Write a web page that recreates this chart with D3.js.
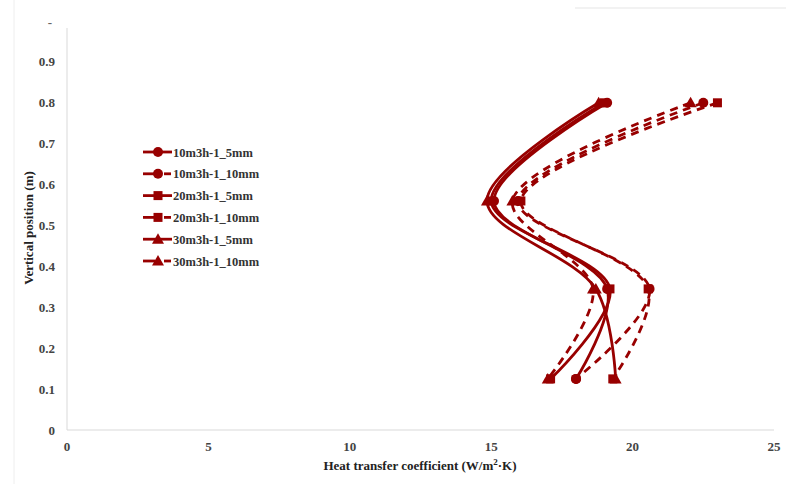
<!DOCTYPE html>
<html><head><meta charset="utf-8">
<script src="https://cdn.jsdelivr.net/npm/d3@7"></script>
<style>body{margin:0;background:#fff}</style>
</head><body>
<svg id="c" width="786" height="484"></svg>
<script>
const positions = [0.8, 0.56, 0.345, 0.125];
const seriesNames = ["10m3h-1_5mm","10m3h-1_10mm","20m3h-1_5mm","20m3h-1_10mm","30m3h-1_5mm","30m3h-1_10mm"];
const s10_5  = [19.1, 15.1, 19.1, 18.0];
const s10_10 = [22.5, 15.95, 20.6, 18.0];
const s20_5  = [19.0, 15.0, 19.2, 17.1];
const s20_10 = [23.0, 16.05, 20.55, 19.3];
const s30_5  = [18.8, 14.85, 18.7, 19.4];
const s30_10 = [22.05, 15.75, 18.6, 17.0];
const seriesValues = [s10_5, s10_10, s20_5, s20_10, s30_5, s30_10];
const seriesMarkers = ["circle","circle","square","square","triangle","triangle"];
const seriesDashed = [false,true,false,true,false,true];
const xTicks = [0,5,10,15,20,25];
const yTicks = [0,0.1,0.2,0.3,0.4,0.5,0.6,0.7,0.8,0.9];

const color = "#980000";
const svg = d3.select("#c");
const x = d3.scaleLinear().domain([0,25]).range([67,774]);
const y = d3.scaleLinear().domain([0,1]).range([430,21]);

// faint frame remnants
svg.append("line").attr("x1",14).attr("x2",14).attr("y1",0).attr("y2",484).attr("stroke","#eeeeee").attr("stroke-width",1);
svg.append("line").attr("x1",575).attr("x2",786).attr("y1",8).attr("y2",8).attr("stroke","#eeeeee").attr("stroke-width",1.5);

// axes lines
svg.append("line").attr("x1",x(0)).attr("x2",x(0)).attr("y1",28).attr("y2",y(0)).attr("stroke","#d9d9d9").attr("stroke-width",1);
svg.append("line").attr("x1",x(0)).attr("x2",x(25)).attr("y1",y(0)).attr("y2",y(0)).attr("stroke","#d9d9d9").attr("stroke-width",1);

const font = "'Liberation Serif', 'DejaVu Serif', serif";
svg.append("g").selectAll("text").data(yTicks).join("text")
  .attr("x",55).attr("y",d=>y(d)+4.5).attr("text-anchor","end")
  .attr("font-family",font).attr("font-weight","bold").attr("font-size",13).attr("fill","#444")
  .text(d=>d===0?"0":d3.format(".1f")(d));
svg.append("text").attr("x",50).attr("y",27).attr("text-anchor","middle").attr("font-family",font).attr("font-weight","bold").attr("font-size",13).attr("fill","#666").text("-");
svg.append("g").selectAll("text").data(xTicks).join("text")
  .attr("x",d=>x(d)).attr("y",451).attr("text-anchor","middle")
  .attr("font-family",font).attr("font-weight","bold").attr("font-size",13).attr("fill","#444")
  .text(d=>d);

svg.append("text").attr("x",420).attr("y",470).attr("text-anchor","middle")
  .attr("font-family",font).attr("font-weight","bold").attr("font-size",13).attr("fill","#222")
  .html("Heat transfer coefficient (W/m<tspan dy='-5' font-size='9'>2</tspan><tspan dy='5'>·K)</tspan>");
svg.append("text").attr("transform","translate(33,228) rotate(-90)").attr("text-anchor","middle")
  .attr("font-family",font).attr("font-weight","bold").attr("font-size",13).attr("fill","#222")
  .text("Vertical position (m)");

const line = d3.line().x(d=>x(d[0])).y(d=>y(d[1])).curve(d3.curveCatmullRom.alpha(0.5));

function marker(g, type, cx, cy){
  if(type==="circle") g.append("circle").attr("cx",cx).attr("cy",cy).attr("r",5).attr("fill",color);
  else if(type==="square") g.append("rect").attr("x",cx-4.5).attr("y",cy-4.5).attr("width",9).attr("height",9).attr("fill",color);
  else g.append("path").attr("d",`M${cx},${cy-6}L${cx+6},${cy+4.5}L${cx-6},${cy+4.5}Z`).attr("fill",color);
}

const plot = svg.append("g");
seriesValues.forEach((vals,i)=>{
  const pts = vals.map((v,j)=>[v,positions[j]]);
  plot.append("path").attr("d",line(pts)).attr("fill","none").attr("stroke",color)
    .attr("stroke-width",2.8).attr("stroke-dasharray",seriesDashed[i]?"8,6":null);
  pts.forEach(p=>marker(plot,seriesMarkers[i],x(p[0]),y(p[1])));
});

// legend
const lg = svg.append("g");
seriesNames.forEach((n,i)=>{
  const ly = 152 + i*21.8;
  if(seriesDashed[i]){
    lg.append("line").attr("x1",143).attr("x2",155).attr("y1",ly).attr("y2",ly).attr("stroke",color).attr("stroke-width",2.8);
    lg.append("line").attr("x1",164).attr("x2",171).attr("y1",ly).attr("y2",ly).attr("stroke",color).attr("stroke-width",2.8);
  } else {
    lg.append("line").attr("x1",143).attr("x2",172).attr("y1",ly).attr("y2",ly).attr("stroke",color).attr("stroke-width",2.8);
  }
  marker(lg,seriesMarkers[i],158,ly);
  lg.append("text").attr("x",173).attr("y",ly+4.5).attr("font-family",font).attr("font-weight","bold")
    .attr("font-size",12.5).attr("fill","#333").text(n);
});
</script>
</body></html>
